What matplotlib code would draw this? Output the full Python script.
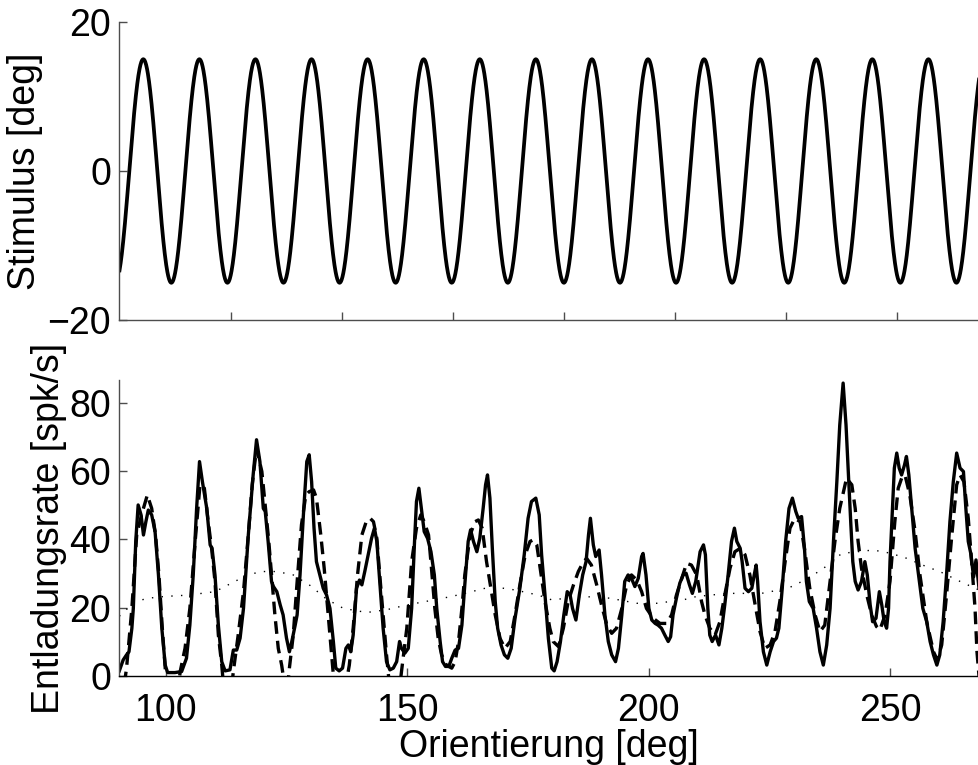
import numpy as np
import matplotlib
matplotlib.use("Agg")
import matplotlib.pyplot as plt

plt.rcParams['font.family'] = ['Liberation Sans', 'DejaVu Sans']
plt.rcParams['font.size'] = 27

# --- stimulus (top panel): sinusoidal orientation modulation ---
stim_amplitude = 15.0      # deg
stim_period = 0.505        # s
stim_peak_time = 0.2143    # s, time of first maximum
stim_tmax = 7.74
stim_ticks = [1, 2, 3, 4, 5, 6, 7]

# --- measured firing rate (solid) ---
rate_deg = [90.4, 91.2, 91.9, 92.4, 93.0, 93.3, 93.8, 94.3, 94.9, 95.4, 95.9, 96.4,
            97.1, 97.8, 98.5, 99.2, 99.9, 100.4, 101.9, 103.3, 104.3, 105.0, 105.7,
            106.4, 107.0, 107.6, 108.5, 109.2, 109.6, 110.2, 110.9, 111.6, 112.3,
            113.3, 114.0, 114.7, 115.4, 116.1, 117.1, 118.1, 118.8, 119.5, 120.2,
            120.6, 121.2, 121.9, 122.3, 123.0, 123.7, 124.3, 125.0, 125.6, 126.1,
            126.8, 127.2, 127.8, 128.5, 129.2, 129.7, 130.2, 130.7, 131.2, 131.9,
            132.6, 133.3, 134.0, 134.7, 135.2, 135.9, 136.6, 137.3, 137.8, 138.3,
            138.8, 139.5, 140.1, 140.6, 141.2, 141.9, 142.6, 143.2, 143.7, 144.3,
            145.0, 145.7, 146.4, 147.1, 147.8, 148.4, 148.8, 149.5, 150.2, 150.9,
            151.5, 151.9, 152.4, 153.0, 153.5, 154.2, 154.9, 155.6, 156.1, 156.8,
            157.3, 157.9, 158.6, 159.2, 159.9, 160.6, 161.3, 161.9, 162.6, 163.1,
            163.7, 164.4, 165.0, 165.7, 166.2, 166.6, 167.1, 167.6, 168.2, 168.7,
            169.4, 170.1, 170.8, 171.5, 172.3, 173.3, 174.2, 175.0, 175.7, 176.6,
            177.3, 177.8, 178.5, 179.2, 179.9, 180.4, 181.0, 181.7, 182.4, 183.1,
            183.7, 184.2, 184.9, 185.6, 186.3, 187.0, 187.5, 187.9, 188.5, 189.0,
            189.7, 190.2, 190.9, 191.6, 192.3, 193.1, 193.7, 194.4, 195.0, 195.7,
            196.4, 197.1, 197.8, 198.5, 198.8, 199.4, 200.0, 200.6, 201.3, 201.9,
            202.6, 203.3, 204.0, 204.5, 205.0, 205.7, 206.4, 207.1, 207.7, 208.4,
            209.0, 209.7, 210.6, 211.3, 211.7, 212.2, 212.6, 213.1, 213.8, 214.5,
            215.1, 215.7, 216.4, 217.1, 217.7, 218.2, 218.9, 219.3, 219.9, 220.6,
            221.3, 221.8, 222.2, 222.5, 223.0, 223.7, 224.4, 225.1, 225.8, 226.4,
            226.9, 227.6, 228.3, 229.0, 229.7, 230.4, 230.9, 231.6, 232.2, 232.6,
            233.2, 234.0, 234.7, 235.4, 236.1, 236.8, 237.5, 238.2, 238.9, 239.5,
            240.2, 240.8, 241.3, 241.8, 242.2, 242.7, 243.3, 244.0, 244.7, 245.2,
            245.8, 246.3, 247.0, 247.7, 248.2, 248.7, 249.2, 249.6, 249.9, 250.4,
            250.8, 251.3, 251.8, 252.3, 252.9, 253.3, 253.8, 254.4, 255.1, 255.8,
            256.7, 257.5, 258.2, 258.9, 259.6, 260.2, 260.9, 261.6, 262.3, 263.0,
            263.7, 264.4, 265.1, 265.6, 266.1, 266.6, 267.2, 267.7, 268.3]
rate_val = [1.5, 4.7, 6.2, 7.1, 14.0, 19.8, 39.4, 50.1, 47.2, 41.3, 45.2, 48.6,
            47.2, 42.3, 29.6, 14.0, 3.2, 1.0, 1.0, 1.3, 5.2, 14.9, 29.6,
            49.1, 62.8, 56.9, 49.1, 38.4, 37.4, 29.6, 14.9, 4.2, 1.5,
            1.8, 7.6, 7.6, 11.1, 19.8, 41.3, 58.9, 69.2, 62.8, 49.1,
            48.2, 39.4, 27.7, 26.2, 24.7, 20.8, 17.9, 11.1, 7.1, 10.1,
            14.9, 17.9, 29.6, 47.2, 62.8, 64.8, 56.9, 43.3, 33.5, 29.6,
            25.7, 23.7, 19.8, 10.1, 2.3, 1.5, 2.3, 8.1, 9.1, 7.1,
            12.0, 25.7, 28.1, 26.7, 30.6, 35.5, 40.3, 43.3, 39.4, 27.7,
            14.0, 4.2, 1.8, 2.3, 4.2, 10.1, 8.1, 6.7, 8.1, 19.8,
            39.4, 51.1, 55.0, 48.2, 42.3, 40.3, 36.4, 29.6, 19.8, 10.1,
            4.2, 2.8, 2.8, 5.2, 7.6, 8.1, 14.9, 26.7, 39.4, 42.8,
            39.4, 36.4, 40.3, 49.1, 56.0, 58.9, 52.1, 37.4, 21.8, 14.0,
            9.1, 6.2, 5.2, 8.1, 16.9, 25.7, 35.5, 46.2, 51.1, 52.1,
            47.2, 35.5, 23.7, 11.0, 2.3, 1.5, 4.2, 10.1, 17.9, 24.7,
            23.7, 19.8, 16.4, 23.7, 29.6, 33.5, 41.3, 46.2, 38.4, 35.0,
            36.9, 29.6, 17.9, 10.1, 6.2, 4.2, 8.1, 17.9, 27.7, 29.6,
            28.6, 26.2, 28.6, 35.0, 35.9, 29.6, 19.8, 16.4, 15.4, 14.9,
            14.0, 12.0, 10.1, 11.5, 17.9, 22.8, 27.2, 29.6, 30.1, 26.7,
            24.2, 27.7, 36.4, 38.4, 35.5, 19.8, 12.0, 10.1, 12.0, 9.1,
            14.0, 20.8, 29.6, 39.4, 43.3, 39.4, 37.4, 33.5, 25.7, 24.7,
            25.7, 29.6, 32.5, 27.7, 15.9, 7.1, 3.2, 7.1, 10.1, 11.1,
            14.0, 25.7, 39.4, 49.1, 52.1, 48.2, 46.2, 46.7, 37.4, 27.7,
            21.8, 19.8, 14.0, 7.1, 3.2, 9.1, 19.8, 39.4, 56.9, 73.5,
            85.8, 73.5, 58.9, 44.3, 33.5, 27.7, 25.2, 27.7, 33.5, 29.6,
            20.8, 15.9, 16.9, 24.7, 20.8, 15.9, 14.0, 19.8, 33.5, 49.1,
            60.9, 65.3, 60.9, 58.9, 61.8, 64.3, 58.9, 49.1, 37.4, 29.6,
            19.8, 15.9, 10.1, 6.2, 3.2, 6.2, 15.9, 29.6, 45.2, 56.9,
            65.3, 60.9, 59.9, 49.1, 39.4, 36.0, 29.0, 34.0, 26.0]

# --- model prediction (dashed); negative parts fall below the axis ---
fit_deg = [90.4, 91.6, 91.9, 93.0, 94.0, 95.0, 96.2, 97.1, 97.9, 98.6, 99.3, 99.9,
           100.5, 102.5, 103.0, 104.0, 105.0, 106.1, 107.1, 108.0, 108.8, 109.5,
           110.2, 110.9, 111.6, 112.3, 113.5, 114.0, 115.0, 116.1, 117.1, 117.9,
           118.8, 119.9, 121.3, 122.6, 123.3, 124.0, 124.3, 124.9, 125.6, 126.4,
           127.1, 128.1, 129.0, 129.7, 130.6, 131.2, 132.1, 132.8, 133.7, 134.4,
           134.7, 135.5, 137.0, 138.0, 138.8, 139.7, 140.6, 141.5, 142.3, 143.0,
           143.7, 144.3, 145.0, 145.7, 146.1, 146.8, 148.3, 148.8, 149.9, 150.9,
           151.9, 152.8, 153.5, 154.4, 155.0, 155.7, 156.4, 157.1, 158.1, 159.2,
           159.9, 160.6, 161.3, 161.9, 163.0, 164.0, 164.7, 165.5, 166.4, 167.3,
           168.2, 169.2, 170.2, 171.3, 172.3, 173.3, 174.4, 175.4, 176.1, 176.8,
           177.5, 178.5, 179.5, 180.2, 181.3, 182.3, 183.3, 184.4, 185.4, 186.1,
           187.1, 188.1, 189.2, 190.2, 191.3, 192.3, 193.3, 194.4, 195.4, 196.4,
           197.5, 198.5, 199.5, 200.9, 202.3, 203.7, 204.7, 205.7, 206.8, 207.8,
           208.8, 209.9, 210.9, 211.6, 212.6, 213.7, 214.7, 215.7, 216.8, 217.8,
           218.9, 219.9, 220.9, 222.0, 223.0, 224.0, 225.1, 226.1, 227.1, 228.2,
           229.2, 230.2, 231.3, 232.3, 233.3, 234.4, 235.4, 236.4, 237.5, 238.5,
           239.5, 240.9, 242.0, 242.7, 243.3, 244.0, 245.1, 246.1, 247.1, 247.8,
           248.9, 249.9, 250.9, 251.6, 252.3, 253.0, 254.0, 255.1, 256.1, 257.5,
           258.9, 259.7, 260.6, 261.6, 262.7, 263.7, 264.4, 265.2, 266.1, 266.8,
           267.5, 267.9, 268.3, 268.8]
fit_val = [-8.0, -0.7, 2.3, 19.8, 41.3, 47.2, 53.0, 49.1, 41.3, 29.6, 14.0, 2.3,
           -8.0, -5.0, 1.3, 8.1, 19.8, 39.4, 56.0, 55.0, 45.2, 37.4,
           27.7, 12.0, 3.2, -8.0, -5.0, 1.3, 12.0, 24.7, 41.3, 56.0,
           66.7, 59.9, 40.0, 17.9, 8.1, 3.2, 0.3, -8.0, 2.3, 12.0,
           25.7, 44.3, 53.0, 54.0, 54.5, 52.1, 41.3, 31.6, 16.9, 5.2,
           0.3, -8.0, -5.0, 3.2, 14.0, 29.6, 41.3, 45.2, 46.2, 45.2,
           40.3, 29.6, 17.9, 6.2, 0.3, -8.0, -5.0, 1.3, 14.0, 33.5,
           43.3, 47.2, 45.2, 41.3, 31.6, 19.8, 11.0, 6.2, 3.2, 2.3,
           4.2, 10.1, 19.8, 29.6, 41.3, 45.2, 45.7, 43.3, 33.5, 25.7,
           17.9, 11.0, 8.1, 10.1, 17.9, 26.7, 35.5, 39.4, 39.9, 38.4,
           31.6, 21.8, 14.0, 10.1, 8.6, 14.0, 21.8, 26.7, 30.6, 32.5,
           34.5, 32.5, 26.7, 20.8, 14.9, 12.5, 14.0, 19.8, 26.7, 29.6,
           28.1, 24.7, 19.8, 16.9, 15.4, 15.4, 17.9, 23.7, 28.6, 33.0,
           32.5, 29.6, 21.8, 17.9, 14.0, 12.0, 15.9, 23.7, 31.6, 36.4,
           37.4, 35.5, 29.6, 20.8, 13.0, 8.1, 9.1, 13.0, 21.8, 33.5,
           43.3, 46.2, 45.2, 36.4, 25.7, 17.9, 13.0, 14.9, 27.7, 39.4,
           49.1, 57.9, 56.0, 49.1, 39.4, 31.6, 23.7, 17.9, 14.5, 13.5,
           17.9, 27.7, 45.2, 55.0, 57.9, 58.9, 53.0, 42.3, 29.6, 15.9,
           7.1, 4.7, 9.1, 23.7, 41.3, 56.0, 58.9, 56.9, 46.2, 33.5,
           19.8, 7.1, 0.3, -8.0]

# --- slow baseline (dotted) ---
base_deg = [90.4, 93.6, 96.5, 99.8, 104.7, 110.2, 114.3, 117.0, 119.8, 123.0,
            126.4, 129.9, 133.3, 136.8, 141.6, 145.7, 149.9, 153.7, 159.2, 163.3,
            167.5, 172.3, 177.1, 179.9, 186.4, 191.9, 197.5, 201.6, 207.1, 209.9,
            216.4, 223.3, 228.8, 233.0, 237.1, 239.9, 246.4, 249.9, 253.3, 257.5,
            260.2, 264.4, 268.3]
base_val = [17.5, 21.8, 22.8, 23.3, 23.7, 24.7, 27.7, 29.6, 30.6, 30.6,
            29.6, 26.5, 22.5, 19.8, 18.6, 19.4, 20.8, 21.8, 23.3, 24.7,
            26.2, 25.2, 23.7, 22.3, 23.3, 22.8, 21.3, 21.3, 22.3, 23.3,
            24.2, 24.2, 25.7, 28.6, 32.5, 35.9, 36.9, 36.0, 34.5, 32.0,
            30.6, 27.7, 25.2]

deg_ticks = [100, 150, 200, 250]
rate_ticks = [0, 20, 40, 60, 80]
stim_yticks = [-20, 0, 20]

W, H = 979, 765
fig = plt.figure(figsize=(W / 100, H / 100), dpi=100)
left = 119.5 / W
ax1 = fig.add_axes([left, 1 - 320 / H, 1 - left, 298 / H])
ax2 = fig.add_axes([left, 1 - 676 / H, 1 - left, 296 / H])

spine_col = '#4d4d4d'
for ax in (ax1, ax2):
    for s in ('top', 'right'):
        ax.spines[s].set_visible(False)
    for s in ('left', 'bottom'):
        ax.spines[s].set_color(spine_col)
        ax.spines[s].set_linewidth(1.0)
    ax.tick_params(direction='in', length=6, width=1.0, color=spine_col,
                   labelsize=27)
    ax.tick_params(axis='y', pad=6)
    ax.tick_params(axis='x', pad=12)

# top: stimulus
t = np.linspace(0, stim_tmax, 3000)
stim = stim_amplitude * np.cos(2 * np.pi * (t - stim_peak_time) / stim_period)
ax1.plot(t, stim, color='black', lw=2.7)
ax1.set_xlim(0, stim_tmax)
ax1.set_ylim(-20, 20)
ax1.set_xticks(stim_ticks)
ax1.set_xticklabels([])
ax1.set_yticks(stim_yticks)
ax1.set_ylabel('Stimulus [deg]', labelpad=3)

# bottom: firing rate
ax2.plot(base_deg, base_val, color='black', lw=1.0, linestyle=(0, (1, 6)))
ax2.plot(fit_deg, fit_val, color='black', lw=2.4, linestyle=(0, (3.8, 2.1)))
ax2.plot(rate_deg, rate_val, color='black', lw=2.4)
ax2.set_xlim(90.44, 268.32)
ax2.set_ylim(0, 86.7)
ax2.set_xticks(deg_ticks)
ax2.set_yticks(rate_ticks)
ax2.spines['bottom'].set_color('black')
ax2.set_xlabel('Orientierung [deg]', labelpad=0)
ax2.set_ylabel('Entladungsrate [spk/s]', labelpad=2)

fig.savefig('out.png', dpi=100)
